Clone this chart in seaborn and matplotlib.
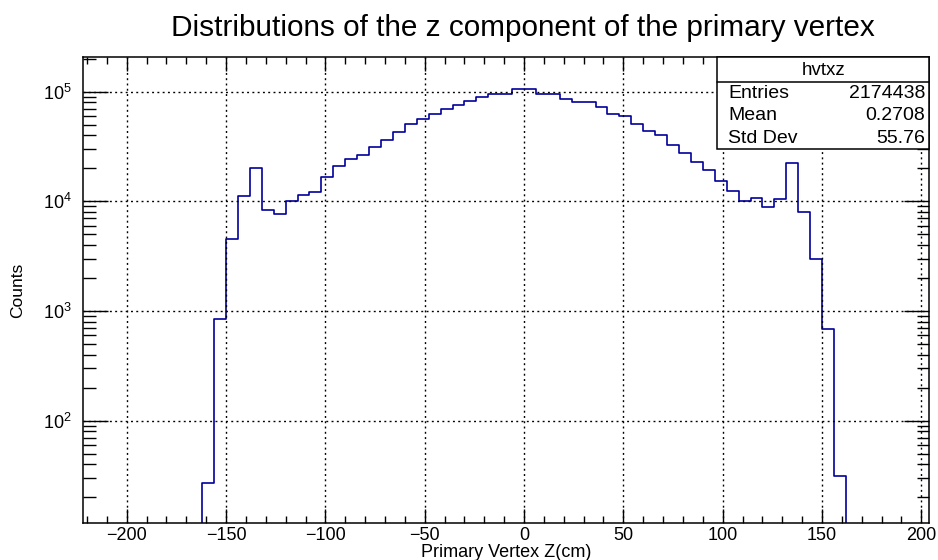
import numpy as np
import pandas as pd
import matplotlib
matplotlib.use("Agg")
import matplotlib.pyplot as plt
from matplotlib.ticker import MultipleLocator, LogLocator, NullFormatter
from matplotlib.patches import Rectangle
import seaborn as sns

# Histogram of the primary-vertex z position: 6 cm bins from -162 to 162 cm
bin_width = 6.0
bin_low = -162.0
counts = [
    27, 843, 4490, 11100, 20100, 8410, 7620, 10000, 11500, 12200,
    16800, 21100, 24300, 26400, 31200, 36600, 42800, 51200, 56900, 62700,
    69900, 76200, 82800, 89500, 95200, 95900, 105200, 106500, 95900, 95200,
    86300, 81100, 80000, 73100, 63100, 60500, 50500, 44200, 40200, 32700,
    27300, 22800, 19300, 15400, 12500, 10100, 10700, 8820, 10600, 22500,
    7940, 2950, 692, 31,
]
x_ticks = [-200, -150, -100, -50, 0, 50, 100, 150, 200]
x_range = (-222, 204)
y_range = (11.6, 2.07e5)

hist_name = "hvtxz"
stat_names = ["Entries", "Mean", "Std Dev"]
stat_values = ["2174438", "0.2708", "55.76"]

title = "Distributions of the z component of the primary vertex"
x_label = "Primary Vertex Z(cm)"
y_label = "Counts"

sns.set_theme(style="ticks")
plt.rcParams["font.family"] = ["Liberation Sans", "DejaVu Sans"]
plt.rcParams["axes.unicode_minus"] = True
for key in ["text.color", "axes.labelcolor", "xtick.color", "ytick.color",
            "axes.edgecolor"]:
    plt.rcParams[key] = "black"

# Pad with one empty bin on each side so the outline drops to the floor
n = len(counts)
edges = [float(e) for e in bin_low + bin_width * np.arange(-1, n + 2)]
centers = [0.5 * (a + b) for a, b in zip(edges[:-1], edges[1:])]
weights = [0] + counts + [0]
df = pd.DataFrame({"z": centers, "w": weights})

fig = plt.figure(figsize=(9.38, 5.6), dpi=100)
fig.patch.set_facecolor("white")
ax = fig.add_axes([83 / 938, 1 - 523.3 / 560, 846.3 / 938, 466.3 / 560])
ax.set_facecolor("white")

sns.histplot(data=df, x="z", weights="w", bins=edges, element="step",
             fill=False, color="#000099", linewidth=1.2, ax=ax)

ax.set_yscale("log")
ax.set_xlim(*x_range)
ax.set_ylim(*y_range)

ax.set_xticks(x_ticks)
ax.xaxis.set_minor_locator(MultipleLocator(10))
ax.yaxis.set_major_locator(LogLocator(base=10))
ax.yaxis.set_minor_locator(LogLocator(base=10, subs=np.arange(2, 10)))
ax.yaxis.set_minor_formatter(NullFormatter())

ax.grid(True, which="major", color="black", linestyle=(0, (1.4, 2.4)),
        linewidth=1.0)
ax.set_axisbelow(False)

for side in ["left", "right", "top", "bottom"]:
    ax.spines[side].set_visible(True)
    ax.spines[side].set_linewidth(1.1)
    ax.spines[side].set_color("black")

ax.tick_params(axis="both", which="both", direction="in", top=True,
               right=True, colors="black", labelcolor="black", labelsize=13)
ax.tick_params(axis="x", which="major", length=10, width=1.0, pad=2.5)
ax.tick_params(axis="x", which="minor", length=5, width=1.0)
ax.tick_params(axis="y", which="major", length=18, width=1.0, pad=8)
ax.tick_params(axis="y", which="minor", length=9, width=1.0)

ax.set_xlabel(x_label, fontsize=13, color="black")
ax.set_ylabel(y_label, fontsize=12.5, color="black")
ax.xaxis.set_label_coords(0.5, -(557 - 523.3) / 466.3)
ax.xaxis.label.set_verticalalignment("baseline")
ax.yaxis.set_label_coords(-0.0768, 0.5)
ax.yaxis.label.set_verticalalignment("center")

fig.text(523 / 938, 1 - 28 / 560, title, ha="center", va="center",
         fontsize=21.4, color="black")

# Statistics box in the top-right corner
bx0, by0 = (717 - 83) / 846.3, (523.3 - 149) / 466.3
ax.add_patch(Rectangle((bx0, by0), 1 - bx0, 1 - by0, transform=ax.transAxes,
                       facecolor="white", edgecolor="black", linewidth=1.1,
                       zorder=5, clip_on=False))
hy = (523.3 - 82) / 466.3
ax.plot([bx0, 1], [hy, hy], transform=ax.transAxes, color="black",
        linewidth=1.1, zorder=6, clip_on=False)
ax.text((bx0 + 1) / 2, (523.3 - 70.7) / 466.3, hist_name,
        transform=ax.transAxes, ha="center", va="center", fontsize=13.5,
        color="black", zorder=7)
row_y = [(523.3 - 93.3) / 466.3, (523.3 - 115.7) / 466.3,
         (523.3 - 138.3) / 466.3]
for name, val, yy in zip(stat_names, stat_values, row_y):
    ax.text((728 - 83) / 846.3, yy, name, transform=ax.transAxes,
            ha="left", va="center", fontsize=14, color="black", zorder=7)
    ax.text((925 - 83) / 846.3, yy, val, transform=ax.transAxes,
            ha="right", va="center", fontsize=14, color="black", zorder=7)

fig.savefig("out.png", dpi=100, facecolor="white")
